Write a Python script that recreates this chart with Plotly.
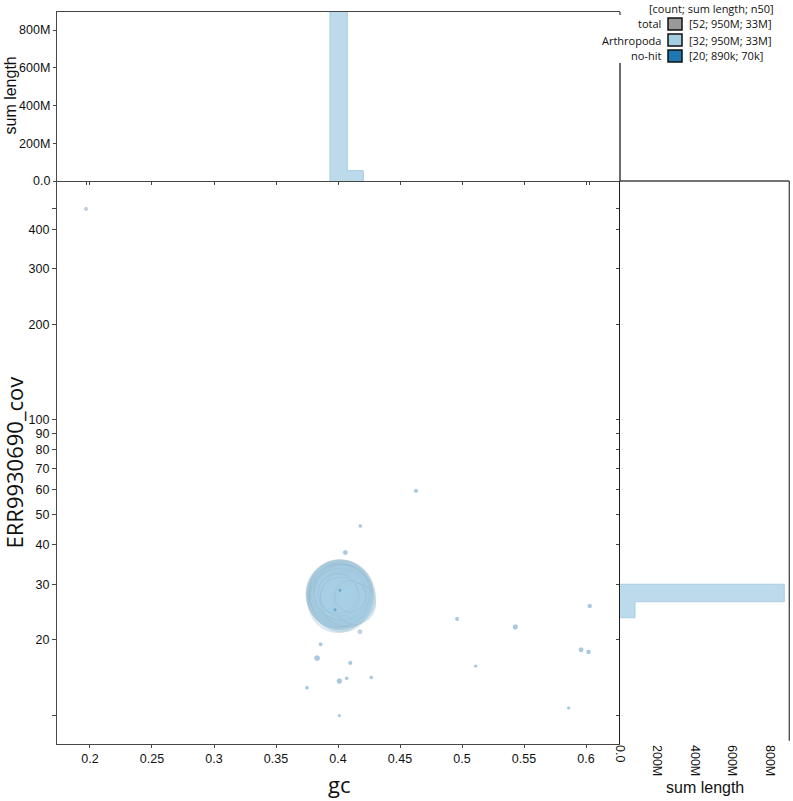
import plotly.graph_objects as go
import math

# ---------------- data ----------------
# Arthropoda contigs: gc, coverage, length (bp)
arth_gc = [0.4024, 0.4010, 0.4000, 0.4030, 0.3995, 0.4040, 0.4015, 0.4005, 0.4035, 0.3990,
           0.4020, 0.4045, 0.4000, 0.4012, 0.4080, 0.4028, 0.3998, 0.4008, 0.4038, 0.3993,
           0.4018, 0.4026, 0.4003, 0.4042, 0.4010, 0.4033, 0.4137, 0.4100, 0.4015, 0.4000,
           0.4177, 0.1968]
arth_cov = [27.7, 28.2, 27.9, 28.5, 27.3, 27.1, 26.8, 28.8, 27.5, 28.4,
            26.6, 28.0, 26.9, 29.0, 27.0, 26.2, 26.1, 27.6, 28.6, 27.0,
            28.1, 27.3, 28.0, 27.8, 27.2, 28.3, 26.0, 27.5, 27.4, 28.0,
            21.2, 464.0]
arth_len = [45e6, 42e6, 40e6, 38e6, 37e6, 36e6, 35e6, 34e6, 34e6, 33e6,
            33e6, 33e6, 33e6, 33e6, 30e6, 33e6, 33e6, 33e6, 33e6, 33e6,
            33e6, 33e6, 33e6, 33e6, 33e6, 30e6, 16e6, 9e6, 14e6, 14.9e6,
            5e4, 2e4]

# no-hit contigs
nohit_gc = [0.4629, 0.4180, 0.4059, 0.3976, 0.3860, 0.3831, 0.4099, 0.4011, 0.4070, 0.4269,
            0.3750, 0.4011, 0.4960, 0.5430, 0.5110, 0.6030, 0.5960, 0.6020, 0.5860, 0.4016]
nohit_cov = [59.3, 45.9, 37.8, 24.9, 19.35, 17.5, 16.9, 14.8, 15.1, 15.2,
             14.1, 11.49, 23.3, 21.96, 16.5, 25.6, 18.6, 18.3, 12.16, 28.7]
nohit_len = [45e3, 22e3, 70e3, 10e3, 30e3, 130e3, 40e3, 110e3, 20e3, 18e3,
             25e3, 10e3, 35e3, 95e3, 12e3, 55e3, 80e3, 60e3, 15e3, 8e3]

# gc histogram (top panel): bin edges and summed length
gc_bin_edges = [0.3935, 0.4075, 0.4204]
gc_bin_sums = [900e6, 55e6]

# coverage histogram (right panel): bin edges and summed length
cov_bin_edges = [23.5, 26.4, 30.0]
cov_bin_sums = [80e6, 876e6]

# axis ticks
x_ticks = [0.2, 0.25, 0.3, 0.35, 0.4, 0.45, 0.5, 0.55, 0.6]
x_tick_labels = ["0.2", "0.25", "0.3", "0.35", "0.4", "0.45", "0.5", "0.55", "0.6"]
x_extremes = [0.1968, 0.6032]
y_ticks = [11.49, 20, 30, 40, 50, 60, 70, 80, 90, 100, 200, 300, 400, 464]
y_tick_labels = ["", "20", "30", "40", "50", "60", "70", "80", "90", "100", "200", "300", "400", ""]
len_ticks = [0, 200e6, 400e6, 600e6, 800e6]
len_tick_labels = ["0.0", "200M", "400M", "600M", "800M"]

# legend
leg_names = ["total", "Arthropoda", "no-hit"]
leg_counts = [52, 32, 20]
leg_sums = ["950M", "950M", "890k"]
leg_n50 = ["33M", "33M", "70k"]
leg_colors = ["#999999", "#a6cee3", "#1f78b4"]

# ---------------- figure ----------------
W, H = 793, 801
def px_x(p):
    return p / W
def px_y(p):
    return 1 - p / H

main_x = [px_x(57), px_x(620)]
main_y = [px_y(744), px_y(181)]
top_y = [px_y(181), px_y(12)]
right_x = [px_x(620), px_x(789.3)]

LINE = "rgb(70,70,70)"
TICKFONT = dict(family="Liberation Sans, Arial", size=12.5, color="#111")

def diam(L):
    return 1.8 + 0.0099 * math.sqrt(L)

fig = go.Figure()

# Arthropoda points (large first so small on top)
order = sorted(range(len(arth_len)), key=lambda i: -arth_len[i])
fig.add_trace(go.Scatter(
    x=[arth_gc[i] for i in order], y=[arth_cov[i] for i in order],
    mode="markers", xaxis="x", yaxis="y",
    marker=dict(size=[diam(arth_len[i]) for i in order],
                color=["rgba(166,206,227,0.55)" if arth_len[i] >= 1e6 else "rgba(140,180,215,0.75)"
                       for i in order],
                line=dict(color=["rgba(120,130,140,0.2)" if arth_len[i] >= 1e6 else "rgba(120,140,160,0.6)"
                                 for i in order], width=0.8)),
    hoverinfo="skip"))

order2 = sorted(range(len(nohit_len)), key=lambda i: -nohit_len[i])
fig.add_trace(go.Scatter(
    x=[nohit_gc[i] for i in order2], y=[nohit_cov[i] for i in order2],
    mode="markers", xaxis="x", yaxis="y",
    marker=dict(size=[diam(nohit_len[i]) for i in order2],
                color="rgba(31,120,180,0.55)",
                line=dict(color="rgba(31,120,180,0.3)", width=0.5)),
    hoverinfo="skip"))

# top histogram as step polygon
hx, hy = [], []
for i, s in enumerate(gc_bin_sums):
    hx += [gc_bin_edges[i], gc_bin_edges[i + 1]]
    hy += [s, s]
hx = [gc_bin_edges[0]] + hx + [gc_bin_edges[-1]]
hy = [0] + hy + [0]
fig.add_trace(go.Scatter(x=hx, y=hy, xaxis="x2", yaxis="y2", mode="lines",
                         fill="toself", fillcolor="rgba(166,206,227,0.75)",
                         line=dict(color="rgba(166,206,227,1)", width=1),
                         hoverinfo="skip"))

# right histogram as step polygon
rx, ry = [], []
for i, s in enumerate(cov_bin_sums):
    ry += [cov_bin_edges[i], cov_bin_edges[i + 1]]
    rx += [s, s]
ry = [cov_bin_edges[0]] + ry + [cov_bin_edges[-1]]
rx = [0] + rx + [0]
fig.add_trace(go.Scatter(x=rx, y=ry, xaxis="x3", yaxis="y3", mode="lines",
                         fill="toself", fillcolor="rgba(166,206,227,0.75)",
                         line=dict(color="rgba(166,206,227,1)", width=1),
                         hoverinfo="skip"))

xr = [0.1734, 0.6274]
yr = [math.log10(9.35), math.log10(569)]

fig.update_layout(
    width=W, height=H, margin=dict(l=0, r=0, t=0, b=0, autoexpand=False),
    paper_bgcolor="white", plot_bgcolor="white", showlegend=False,
    xaxis=dict(domain=main_x, range=xr, anchor="y", showgrid=False, zeroline=False,
               automargin=False,
               showline=True, linecolor=LINE, linewidth=1.3,
               tickmode="array", tickvals=x_ticks, ticktext=x_tick_labels,
               ticks="outside", ticklen=3, tickcolor=LINE, tickfont=TICKFONT),
    yaxis=dict(domain=main_y, type="log", range=yr, anchor="x", showgrid=False, zeroline=False,
               automargin=False,
               showline=True, linecolor=LINE, linewidth=1.3,
               tickmode="array", tickvals=y_ticks, ticktext=y_tick_labels,
               ticks="outside", ticklen=4, tickcolor=LINE, tickfont=TICKFONT),
    xaxis2=dict(domain=main_x, range=xr, anchor="y2", showgrid=False, zeroline=False,
                automargin=False,
                showline=True, mirror=True, linecolor=LINE, linewidth=1.3,
                tickmode="array", tickvals=x_extremes[:1] + x_ticks + x_extremes[1:],
                showticklabels=False, ticks="outside", ticklen=3, tickcolor=LINE),
    yaxis2=dict(domain=top_y, range=[0, 896e6], anchor="x2", showgrid=False, zeroline=False,
                automargin=False,
                showline=True, linecolor=LINE, linewidth=1.3,
                tickmode="array", tickvals=len_ticks, ticktext=len_tick_labels,
                ticks="outside", ticklen=3, tickcolor=LINE, tickfont=TICKFONT),
    xaxis3=dict(domain=right_x, range=[0, 903e6], anchor="y3", showgrid=False, zeroline=False,
                automargin=False,
                showline=False, tickmode="array", tickvals=len_ticks, ticktext=len_tick_labels,
                tickangle=90, ticks="", tickfont=TICKFONT),
    yaxis3=dict(domain=main_y, type="log", range=yr, anchor="x3", showgrid=False, zeroline=False,
                automargin=False,
                showline=True, linecolor="rgb(30,30,30)", linewidth=1.3,
                tickmode="array", tickvals=y_ticks, showticklabels=False,
                ticks="outside", ticklen=3, tickcolor=LINE),
)

shapes = [
    dict(type="line", xref="paper", yref="paper", x0=right_x[0], x1=right_x[1],
         y0=main_y[1], y1=main_y[1], line=dict(color=LINE, width=1.3)),
    dict(type="line", xref="paper", yref="paper", x0=right_x[1], x1=right_x[1],
         y0=main_y[0] + 0.004, y1=main_y[1], line=dict(color=LINE, width=1.3)),
    dict(type="line", xref="paper", yref="paper", x0=right_x[0], x1=right_x[0],
         y0=main_y[1], y1=px_y(63), line=dict(color="rgb(30,30,30)", width=1.3)),
    dict(type="line", xref="paper", yref="paper", x0=right_x[0], x1=right_x[0],
         y0=px_y(12), y1=px_y(15), line=dict(color=LINE, width=1.3)),
]

annotations = [
    dict(text="gc", x=px_x(338.5), y=px_y(784), xref="paper", yref="paper",
         showarrow=False, font=dict(family="Open Sans", size=22, color="#111"),
         xanchor="center", yanchor="middle"),
    dict(text="ERR9930690_cov", x=px_x(13.5), y=px_y(463), xref="paper", yref="paper",
         showarrow=False, textangle=-90, font=dict(family="Open Sans", size=22, color="#111"),
         xanchor="center", yanchor="middle"),
    dict(text="sum length", x=px_x(10.5), y=px_y(96), xref="paper", yref="paper",
         showarrow=False, textangle=-90, font=dict(family="Liberation Sans, Arial", size=16, color="#111"),
         xanchor="center", yanchor="middle"),
    dict(text="sum length", x=px_x(704.5), y=px_y(787), xref="paper", yref="paper",
         showarrow=False, font=dict(family="Liberation Sans, Arial", size=16, color="#111"),
         xanchor="center", yanchor="middle"),
    dict(text="[count; sum length; n50]", x=px_x(775.5), y=px_y(8.5), xref="paper", yref="paper",
         showarrow=False, font=dict(family="Open Sans", size=11, color="#111"),
         xanchor="right", yanchor="middle"),
]

LEGF = dict(family="Open Sans", size=11, color="#111")
for i, name in enumerate(leg_names):
    cy = 24 + 16 * i
    shapes.append(dict(type="rect", xref="paper", yref="paper",
                       x0=px_x(668), x1=px_x(682), y0=px_y(cy + 6), y1=px_y(cy - 6),
                       fillcolor=leg_colors[i], line=dict(color="#111", width=1.5)))
    annotations.append(dict(text=name, x=px_x(662.5), y=px_y(cy), xref="paper", yref="paper",
                            showarrow=False, font=LEGF, xanchor="right", yanchor="middle"))
    annotations.append(dict(text="[%d; %s; %s]" % (leg_counts[i], leg_sums[i], leg_n50[i]),
                            x=px_x(687), y=px_y(cy), xref="paper", yref="paper",
                            showarrow=False, font=LEGF, xanchor="left", yanchor="middle"))

fig.update_layout(shapes=shapes, annotations=annotations)
fig.write_html("out.html", config={"displayModeBar": False},
               post_script="document.body.style.margin='0';document.body.style.overflow='hidden';")
